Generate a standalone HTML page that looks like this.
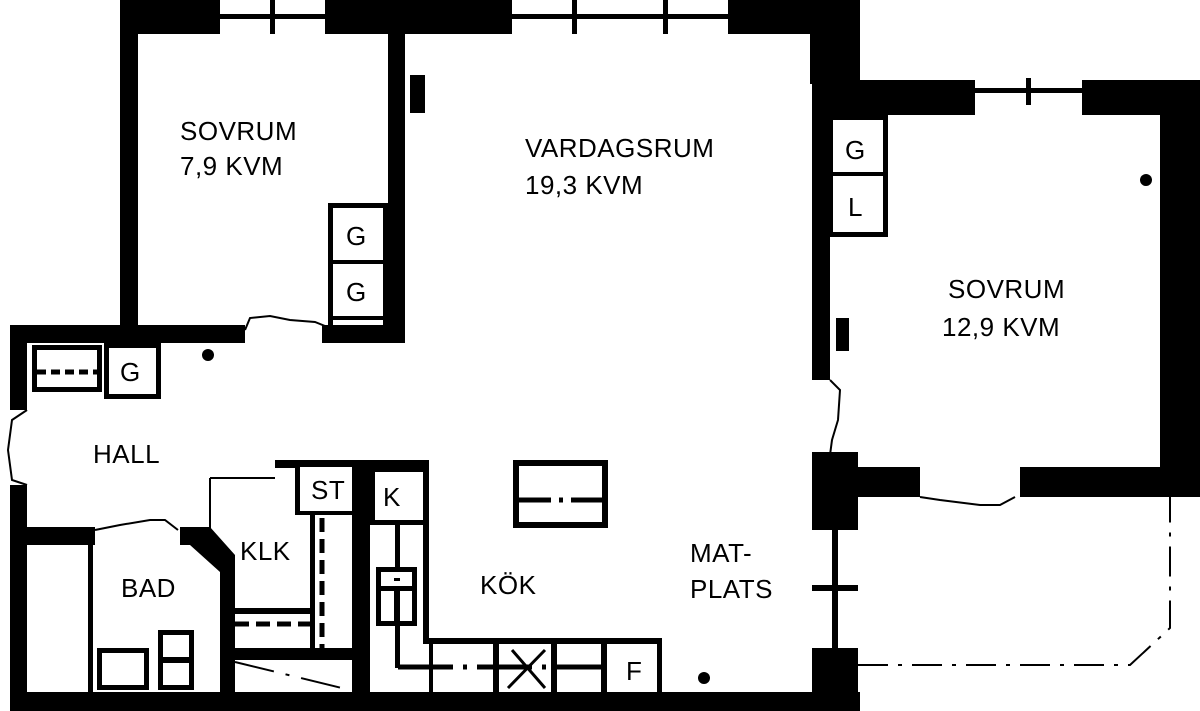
<!DOCTYPE html>
<html><head><meta charset="utf-8"><style>
html,body{margin:0;padding:0;background:#fff;}
svg{display:block}
text{font-family:"Liberation Sans",sans-serif;font-size:26px;letter-spacing:0.5px;fill:#000;}
</style></head><body>
<svg width="1200" height="711" viewBox="0 0 1200 711" xmlns="http://www.w3.org/2000/svg">
<rect width="1200" height="711" fill="#fff"/>
<g fill="#000">
<rect x="120" y="0" width="100" height="34"/>
<rect x="325" y="0" width="187" height="34"/>
<rect x="728" y="0" width="132" height="34"/>
<rect x="810" y="34" width="50" height="50"/>
<rect x="220" y="14" width="105" height="5"/>
<rect x="270" y="0" width="5" height="34"/>
<rect x="512" y="14" width="216" height="5"/>
<rect x="572" y="0" width="5" height="34"/>
<rect x="663" y="0" width="5" height="34"/>
<rect x="120" y="0" width="18" height="343"/>
<rect x="388" y="0" width="17" height="343"/>
<rect x="322" y="325" width="83" height="18"/>
<rect x="10" y="325" width="235" height="18"/>
<rect x="328" y="203" width="60" height="122"/>
<rect x="410" y="75" width="15" height="38"/>
<rect x="10" y="325" width="17" height="85"/>
<rect x="10" y="485" width="17" height="226"/>
<rect x="10" y="692" width="850" height="19"/>
<rect x="27" y="527" width="68" height="18"/>
<rect x="88" y="545" width="5" height="147"/>
<rect x="180" y="527" width="30" height="18"/>
<polygon points="180,527 210,527 235,555 235,692 220,692 220,572 190,545"/>
<rect x="812" y="34" width="18" height="346"/>
<rect x="812" y="452" width="46" height="78"/>
<rect x="812" y="648" width="46" height="63"/>
<rect x="832" y="530" width="6" height="118"/>
<rect x="812" y="585" width="46" height="6"/>
<rect x="830" y="80" width="145" height="35"/>
<rect x="1082" y="80" width="118" height="35"/>
<rect x="975" y="88" width="107" height="5"/>
<rect x="1026" y="78" width="5" height="27"/>
<rect x="1160" y="80" width="40" height="417"/>
<rect x="830" y="467" width="90" height="30"/>
<rect x="1020" y="467" width="180" height="30"/>
<rect x="828" y="115" width="60" height="122"/>
<rect x="836" y="318" width="13" height="33"/>
<rect x="275" y="460" width="154" height="8"/>
<rect x="295" y="460" width="57" height="55"/>
<rect x="352" y="460" width="18" height="232"/>
<rect x="370" y="467" width="59" height="58"/>
<rect x="423" y="460" width="6" height="232"/>
<rect x="310" y="515" width="5" height="135"/>
<rect x="232" y="648" width="120" height="12"/>
<rect x="232" y="608" width="78" height="6"/>
<rect x="428" y="638" width="234" height="54"/>
<rect x="513" y="460" width="95" height="68"/>
<rect x="376" y="567" width="41" height="59"/>
<rect x="395" y="523" width="5" height="145"/>
<rect x="97" y="648" width="52" height="42"/>
<rect x="158" y="630" width="36" height="60"/>
<rect x="32" y="345" width="70" height="47"/>
<rect x="104" y="343" width="57" height="56"/>
</g>
<g fill="#fff">
<rect x="333" y="208" width="50" height="52"/>
<rect x="333" y="264" width="50" height="52"/>
<rect x="333" y="320" width="50" height="5"/>
<rect x="833" y="120" width="50" height="52"/>
<rect x="833" y="176" width="50" height="56"/>
<rect x="300" y="467" width="52" height="44"/>
<rect x="375" y="472" width="48" height="48"/>
<rect x="433" y="644" width="60" height="48"/>
<rect x="499" y="644" width="52" height="48"/>
<rect x="557" y="644" width="44" height="48"/>
<rect x="607" y="644" width="50" height="48"/>
<rect x="519" y="466" width="83" height="56"/>
<rect x="381" y="572" width="31" height="14"/>
<rect x="381" y="591" width="13" height="30"/>
<rect x="400" y="591" width="12" height="30"/>
<rect x="102" y="653" width="42" height="32"/>
<rect x="163" y="635" width="26" height="22"/>
<rect x="163" y="663" width="26" height="22"/>
<rect x="37" y="350" width="60" height="37"/>
<rect x="109" y="348" width="47" height="46"/>
<rect x="423" y="644" width="6" height="48"/>
</g>
<rect x="394" y="578" width="6" height="3" fill="#000"/>
<g stroke="#000" fill="none">
<line x1="37" y1="372" x2="97" y2="372" stroke-width="5" stroke-dasharray="9,5"/>
<line x1="519" y1="500" x2="602" y2="500" stroke-width="5" stroke-dasharray="32,8,4,8"/>
<line x1="398" y1="667" x2="607" y2="667" stroke-width="5" stroke-dasharray="55,10,4,10"/>
<line x1="322" y1="518" x2="322" y2="648" stroke-width="5" stroke-dasharray="14,7"/>
<line x1="235" y1="624" x2="310" y2="624" stroke-width="5" stroke-dasharray="14,7"/>
<line x1="210" y1="478" x2="275" y2="478" stroke-width="2"/>
<line x1="210" y1="478" x2="210" y2="530" stroke-width="2"/>
<line x1="235" y1="662" x2="350" y2="690" stroke-width="2" stroke-dasharray="40,12,4,12"/>
<line x1="508" y1="688" x2="545" y2="650" stroke-width="3"/>
<line x1="512" y1="650" x2="545" y2="688" stroke-width="3"/>
<polyline points="858,665 1130,665 1170,628 1170,497" stroke-width="2" stroke-dasharray="30,10,4,10"/>
<polyline points="245,330 250,318 270,316 290,320 315,322 330,328" stroke-width="2"/>
<polyline points="95,530 120,525 150,520 165,520 178,530" stroke-width="2"/>
<polyline points="27,410 12,420 8,450 12,480 27,485" stroke-width="2"/>
<polyline points="830,380 840,390 838,420 832,440 830,455" stroke-width="2"/>
<polyline points="920,497 940,500 980,505 1000,505 1015,497" stroke-width="2"/>
</g>
<g fill="#000">
<circle cx="208" cy="355" r="6"/>
<circle cx="1146" cy="180" r="6"/>
<circle cx="704" cy="678" r="6"/>
</g>
<text x="180" y="140">SOVRUM</text>
<text x="180" y="175">7,9 KVM</text>
<text x="525" y="157">VARDAGSRUM</text>
<text x="525" y="194">19,3 KVM</text>
<text x="948" y="298">SOVRUM</text>
<text x="942" y="336">12,9 KVM</text>
<text x="93" y="463">HALL</text>
<text x="240" y="560">KLK</text>
<text x="121" y="597">BAD</text>
<text x="480" y="594">KÖK</text>
<text x="690" y="562">MAT-</text>
<text x="690" y="598">PLATS</text>
<text x="311" y="499">ST</text>
<text x="383" y="506">K</text>
<text x="346" y="245">G</text>
<text x="346" y="301">G</text>
<text x="845" y="159">G</text>
<text x="848" y="216">L</text>
<text x="120" y="381">G</text>
<text x="626" y="680">F</text>
</svg>
</body></html>
